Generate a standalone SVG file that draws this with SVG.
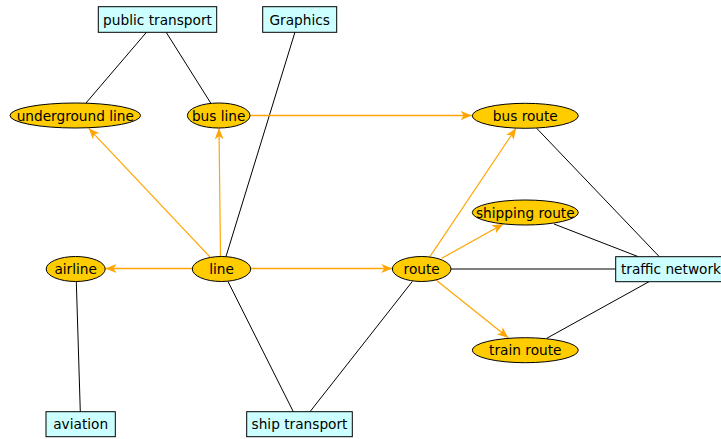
<svg xmlns="http://www.w3.org/2000/svg" width="721" height="439" viewBox="0 0 721 439">
<defs>
<marker id="arr" markerUnits="userSpaceOnUse" markerWidth="12" markerHeight="10" refX="11" refY="4.5" orient="auto">
<path d="M0,0 L11,4.5 L0,9 L3,4.5 z" fill="#FFA500"/>
</marker>
</defs>
<style>
.box{fill:#CCFFFF;stroke:#000;stroke-width:1}
.ell{fill:#FFCC00;stroke:#000;stroke-width:1}
.e{stroke:#000;stroke-width:1;fill:none}
.o{stroke:#FFA500;stroke-width:1.2;fill:none;marker-end:url(#arr)}
.h{stroke-width:1.4}
text{font-family:"DejaVu Sans",sans-serif;font-size:13.7px;fill:#000;text-anchor:middle;dominant-baseline:central}
</style>
<rect width="721" height="439" fill="#fff"/>
<g id="connectors">
<line class="e" x1="146.7" y1="32" x2="86" y2="103"/>
<line class="e" x1="166" y1="32" x2="210.7" y2="103"/>
<line class="e" x1="295" y1="32" x2="226" y2="256.5"/>
<line class="e" x1="76.3" y1="281.5" x2="80.3" y2="411.7"/>
<line class="e" x1="228" y1="281.5" x2="293.3" y2="411.7"/>
<line class="e" x1="412.3" y1="281.5" x2="310" y2="411.7"/>
<line class="e" x1="451" y1="269" x2="615.7" y2="269"/>
<line class="e" x1="536.7" y1="128.3" x2="659.3" y2="256.7"/>
<line class="e" x1="554" y1="224" x2="638.3" y2="256.7"/>
<line class="e" x1="546.7" y1="338.3" x2="649" y2="281.7"/>
<line class="o" x1="210" y1="257" x2="88.7" y2="128.3"/>
<line class="o" x1="220.5" y1="256.5" x2="219" y2="128.3"/>
<line class="o h" x1="250" y1="115.5" x2="471.7" y2="115.5"/>
<line class="o h" x1="250.7" y1="268.5" x2="392.3" y2="268.5"/>
<line class="o h" x1="192.3" y1="268.5" x2="105.5" y2="268.5"/>
<line class="o" x1="430" y1="256.5" x2="516" y2="128.3"/>
<line class="o" x1="441.7" y1="258.3" x2="503.3" y2="224"/>
<line class="o" x1="436" y1="280" x2="508.3" y2="337.7"/>
</g>
<g id="public_transport"><rect class="box" x="98.3" y="6.7" width="118.4" height="25.6"/><text x="157.5" y="19.5">public transport</text></g>
<g id="graphics"><rect class="box" x="262.7" y="6.7" width="74" height="25.6"/><text x="299.7" y="19.5">Graphics</text></g>
<g id="underground_line"><ellipse class="ell" cx="75.3" cy="115.5" rx="65.3" ry="12.5"/><text x="75.3" y="115.5">underground line</text></g>
<g id="bus_line"><ellipse class="ell" cx="218.7" cy="115.5" rx="31.3" ry="12.5"/><text x="218.7" y="115.5">bus line</text></g>
<g id="bus_route"><ellipse class="ell" cx="525.3" cy="115.8" rx="53" ry="12.5"/><text x="525.3" y="115.8">bus route</text></g>
<g id="shipping_route"><ellipse class="ell" cx="525.3" cy="212.5" rx="53" ry="12.5"/><text x="525.3" y="212.5">shipping route</text></g>
<g id="airline"><ellipse class="ell" cx="75.7" cy="269" rx="29.5" ry="12.5"/><text x="75.7" y="269">airline</text></g>
<g id="line"><ellipse class="ell" cx="221.5" cy="269" rx="29.2" ry="12.5"/><text x="221.5" y="269">line</text></g>
<g id="route"><ellipse class="ell" cx="421.7" cy="269" rx="29.3" ry="12.5"/><text x="421.7" y="269">route</text></g>
<g id="traffic_network"><rect class="box" x="615.7" y="256.7" width="112" height="25" /><text x="671" y="269">traffic network</text></g>
<g id="train_route"><ellipse class="ell" cx="525.3" cy="350.2" rx="53" ry="12.5"/><text x="525.3" y="350.2">train route</text></g>
<g id="aviation"><rect class="box" x="46" y="411.7" width="69.3" height="25"/><text x="80.7" y="424.2">aviation</text></g>
<g id="ship_transport"><rect class="box" x="246.7" y="411.7" width="105.6" height="25"/><text x="299.5" y="424.2">ship transport</text></g>
</svg>
